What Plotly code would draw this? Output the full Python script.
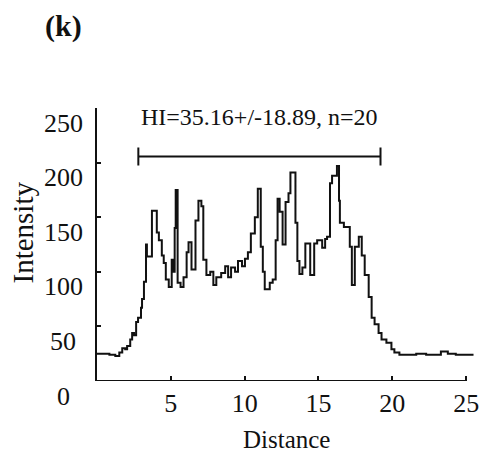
import plotly.graph_objects as go

# intensity profile (step starts)
distance = [0.00, 0.84, 1.24, 1.51, 1.71, 1.91, 2.04, 2.25, 2.38, 2.51, 2.65, 2.78, 2.98, 3.05, 3.18,
            3.32, 3.38, 3.72, 4.05, 4.19, 4.39, 4.52, 4.66, 4.86, 5.06, 5.19, 5.26, 5.33, 5.46, 5.66,
            5.86, 6.07, 6.20, 6.40, 6.67, 6.87, 7.07, 7.20, 7.41, 7.67, 7.88, 8.08, 8.41, 8.68, 8.88,
            9.08, 9.35, 9.55, 9.82, 10.02, 10.22, 10.42, 10.69, 10.89, 11.09, 11.23, 11.36, 11.70, 11.90, 12.10,
            12.23, 12.37, 12.57, 12.77, 12.97, 13.10, 13.44, 13.57, 13.71, 13.91, 14.11, 14.44, 14.71, 14.91, 15.25,
            15.45, 15.58, 15.78, 15.92, 16.25, 16.39, 16.45, 16.72, 17.12, 17.26, 17.46, 17.73, 17.93, 18.13, 18.40,
            18.60, 18.80, 19.07, 19.27, 19.60, 19.94, 20.14, 20.48, 21.62, 22.29, 23.29, 23.76, 24.30, 25.50]
intensity = [25, 24, 23, 26, 30, 29, 32, 38, 44, 42, 54, 58, 67, 75, 91,
             125, 114, 156, 136, 129, 115, 108, 93, 86, 111, 100, 140, 175, 90, 86,
             95, 118, 127, 102, 147, 165, 160, 111, 97, 100, 88, 95, 99, 105, 95,
             104, 100, 110, 105, 112, 118, 135, 150, 176, 123, 100, 84, 90, 93, 129,
             167, 155, 125, 164, 172, 191, 145, 110, 98, 104, 126, 97, 126, 129, 122,
             130, 132, 181, 188, 197, 165, 145, 141, 123, 88, 123, 132, 115, 97, 77,
             58, 52, 44, 38, 35, 29, 26, 24, 25, 24, 27, 25, 24, 24]

# measured span shown by the bracket
span_center = [11.0]
span_half = [8.2]
span_level = [205.5]

ytick_vals = [0, 50, 100, 150, 200, 250]
xtick_vals = [5, 10, 15, 20, 25]

font_name = "Liberation Serif"
ink = "#111111"

fig = go.Figure()

fig.add_trace(go.Scatter(x=distance, y=intensity, mode='lines',
                         line=dict(color=ink, width=2, shape='hv'),
                         showlegend=False, hoverinfo='skip'))

fig.add_trace(go.Scatter(x=span_center, y=span_level, mode='markers',
                         marker=dict(size=1, color='rgba(0,0,0,0)'),
                         error_x=dict(type='data', array=span_half, symmetric=True,
                                      color=ink, thickness=2, width=9),
                         showlegend=False, hoverinfo='skip'))

# bottom axis line only up to 25
fig.add_shape(type='line', xref='x', yref='y', x0=0, x1=25, y0=0, y1=0,
              line=dict(color=ink, width=2))

# y tick labels sit lower than the ticks in the original
for v in ytick_vals:
    fig.add_annotation(x=-0.089, xref='paper', y=v, yref='y', text=str(v),
                       showarrow=False, xanchor='center', yanchor='middle', yshift=-15,
                       font=dict(family=font_name, size=26, color=ink))

fig.add_annotation(x=11.03, xref='x', y=242, yref='y', text="HI=35.16+/-18.89, n=20",
                   showarrow=False, xanchor='center', yanchor='middle',
                   font=dict(family=font_name, size=24, color=ink))

fig.add_annotation(x=-0.195, xref='paper', y=0.545, yref='paper', text="Intensity",
                   textangle=-90, showarrow=False, xanchor='center', yanchor='middle',
                   font=dict(family=font_name, size=29, color=ink))

fig.add_annotation(x=0.501, xref='paper', y=-0.214, yref='paper', text="Distance",
                   showarrow=False, xanchor='center', yanchor='middle',
                   font=dict(family=font_name, size=25, color=ink))

fig.add_annotation(x=-0.089, xref='paper', y=1.30, yref='paper', text="<b>(k)</b>",
                   showarrow=False, xanchor='center', yanchor='middle',
                   font=dict(family=font_name, size=30, color=ink))

fig.update_xaxes(range=[0, 25.6], showline=False, showgrid=False, zeroline=False,
                 ticks='inside', ticklen=5, tickwidth=1.5, tickcolor=ink,
                 tickvals=xtick_vals, ticktext=[str(v) for v in xtick_vals],
                 ticklabelstandoff=4,
                 tickfont=dict(family=font_name, size=26, color=ink))
fig.update_yaxes(range=[0, 250], showline=True, linecolor=ink, linewidth=2,
                 showgrid=False, zeroline=False,
                 ticks='inside', ticklen=4, tickwidth=1.5, tickcolor=ink,
                 tickvals=ytick_vals, showticklabels=False)

# page body adds 8px around the figure, so the figure is 8px smaller each way
fig.update_layout(width=480, height=446, margin=dict(l=89, r=9, t=100, b=73),
                  paper_bgcolor='white', plot_bgcolor='white',
                  font=dict(family=font_name, color=ink))

fig.write_html("out.html")
